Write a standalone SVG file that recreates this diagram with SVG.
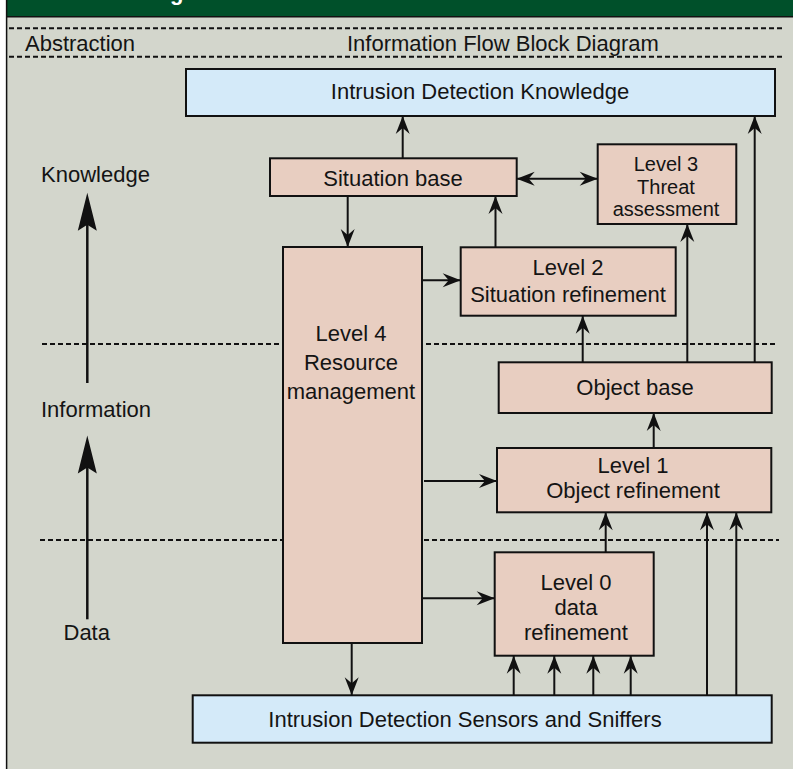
<svg xmlns="http://www.w3.org/2000/svg" width="793" height="769" viewBox="0 0 793 769">
<style>
text{font-family:"Liberation Sans",Arial,sans-serif;font-size:22px;fill:#141414}
.c{text-anchor:middle}
.s{font-size:20px}
.pink{fill:#e8cec1;stroke:#111;stroke-width:2}
.blue{fill:#d4eaf9;stroke:#111;stroke-width:2}
.dash{stroke:#111;stroke-width:2;stroke-dasharray:5 3;fill:none}
.conn line{stroke:#111;stroke-width:2;marker-end:url(#ah)}
.axis line{stroke:#111;stroke-width:2.5}
</style>
<defs>
<marker id="ah" markerUnits="userSpaceOnUse" viewBox="-20 -8 21 16" refX="0" refY="0" markerWidth="21" markerHeight="16" orient="auto-start-reverse">
<path d="M0,0 L-18,-7 L-12,0 L-18,7 Z" fill="#111"/>
</marker>
<path id="bigHead" d="M0,0 L9.5,38 L0,32 L-9.5,38 Z" fill="#111"/>
</defs>
<rect x="0" y="0" width="793" height="769" fill="#d3d6cc"/>
<rect x="0" y="0" width="6" height="769" fill="#ffffff"/>
<rect x="6" y="0" width="787" height="16.5" fill="#00502a"/>
<text x="170" y="-0.5" style="fill:#fff;font-weight:bold">g</text>
<line x1="6" y1="16.8" x2="793" y2="16.8" stroke="#111" stroke-width="1.5"/>
<line x1="6.6" y1="0" x2="6.6" y2="769" stroke="#111" stroke-width="1.5"/>
<g id="header">
<line class="dash" x1="9" y1="28.3" x2="783" y2="28.3"/>
<line class="dash" x1="9" y1="56.7" x2="783" y2="56.7"/>
<text x="25" y="51">Abstraction</text>
<text x="347" y="51">Information Flow Block Diagram</text>
</g>
<g id="levels">
<line class="dash" x1="42" y1="344" x2="777" y2="344"/>
<line class="dash" x1="40" y1="540" x2="779" y2="540"/>
</g>
<g id="axis" class="axis">
<text x="41" y="182">Knowledge</text>
<text x="41" y="417">Information</text>
<text x="63.5" y="640">Data</text>
<line x1="87.3" y1="383" x2="87.3" y2="222"/>
<use href="#bigHead" x="87.3" y="192.7"/>
<line x1="87.3" y1="619.3" x2="87.3" y2="466"/>
<use href="#bigHead" x="87.3" y="435.5"/>
</g>
<g id="idk">
<rect class="blue" x="186" y="69" width="589" height="47"/>
<text class="c" x="480" y="99">Intrusion Detection Knowledge</text>
</g>
<g id="situation-base">
<rect class="pink" x="270" y="158.3" width="246.7" height="37.7"/>
<text class="c" x="393" y="186">Situation base</text>
</g>
<g id="level4">
<rect class="pink" x="283" y="247" width="139" height="396"/>
<text class="c" x="351" y="341">Level 4</text>
<text class="c" x="351" y="370">Resource</text>
<text class="c" x="351" y="399">management</text>
</g>
<g id="level2">
<rect class="pink" x="460.7" y="247.3" width="215" height="68.4"/>
<text class="c" x="568" y="274.5">Level 2</text>
<text class="c" x="568" y="302">Situation refinement</text>
</g>
<g id="level3">
<rect class="pink" x="597.7" y="144.3" width="138.6" height="79.7"/>
<text class="c s" x="666" y="171">Level 3</text>
<text class="c s" x="666" y="193.5">Threat</text>
<text class="c s" x="666" y="216">assessment</text>
</g>
<g id="object-base">
<rect class="pink" x="498.7" y="362.3" width="273" height="50.7"/>
<text class="c" x="635" y="395">Object base</text>
</g>
<g id="level1">
<rect class="pink" x="497" y="448" width="274.3" height="64.3"/>
<text class="c" x="633" y="473">Level 1</text>
<text class="c" x="633" y="498">Object refinement</text>
</g>
<g id="level0">
<rect class="pink" x="494.7" y="552.3" width="159" height="103.4"/>
<text class="c" x="576" y="589.5">Level 0</text>
<text class="c" x="576" y="614.5">data</text>
<text class="c" x="576" y="639.5">refinement</text>
</g>
<g id="sensors">
<rect class="blue" x="192.7" y="695.3" width="579" height="47.4"/>
<text class="c" x="465" y="727">Intrusion Detection Sensors and Sniffers</text>
</g>
<g id="connectors" class="conn">
<line x1="402.7" y1="158.3" x2="402.7" y2="116"/>
<line x1="347.7" y1="196" x2="347.7" y2="247"/>
<line x1="422" y1="280.3" x2="460.7" y2="280.3"/>
<line x1="495.5" y1="247.3" x2="495.5" y2="196"/>
<line x1="516.7" y1="178.7" x2="597.7" y2="178.7" style="marker-start:url(#ah)"/>
<line x1="687.3" y1="362.3" x2="687.3" y2="224"/>
<line x1="754.7" y1="362.3" x2="754.7" y2="116"/>
<line x1="582.7" y1="362.3" x2="582.7" y2="315.7"/>
<line x1="653.7" y1="448" x2="653.7" y2="413"/>
<line x1="424" y1="481" x2="497" y2="481"/>
<line x1="605.7" y1="552.3" x2="605.7" y2="512.3"/>
<line x1="707" y1="695.3" x2="707" y2="512.3"/>
<line x1="736.3" y1="695.3" x2="736.3" y2="512.3"/>
<line x1="422" y1="598.3" x2="494.7" y2="598.3"/>
<line x1="513.7" y1="695.3" x2="513.7" y2="655.7"/>
<line x1="554.3" y1="695.3" x2="554.3" y2="655.7"/>
<line x1="593.3" y1="695.3" x2="593.3" y2="655.7"/>
<line x1="630.7" y1="695.3" x2="630.7" y2="655.7"/>
<line x1="351.7" y1="643" x2="351.7" y2="695.3"/>
</g>
</svg>
